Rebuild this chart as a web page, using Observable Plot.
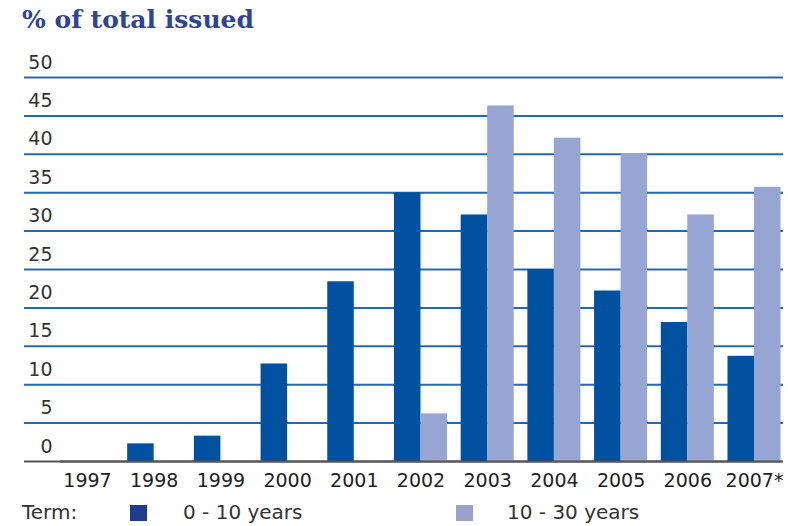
<!DOCTYPE html>
<html>
<head>
<meta charset="utf-8">
<script src="https://cdn.jsdelivr.net/npm/d3@7"></script>
<script src="https://cdn.jsdelivr.net/npm/@observablehq/plot@0.6"></script>
<style>
  html, body { margin: 0; padding: 0; background: #fff; width: 788px; height: 526px; overflow: hidden; }
  #title { position: absolute; left: 22px; top: 1px; font-family: "DejaVu Serif", serif; font-weight: bold; font-size: 25px; color: #2f4494; line-height: 38px; white-space: nowrap; }
  .layer { position: absolute; left: 0; top: 40px; }
  #legend { position: absolute; left: 0; top: 500px; width: 788px; height: 26px; font-family: "DejaVu Sans", sans-serif; font-size: 20px; color: #333; }
  #legend span { position: absolute; top: 0px; line-height: 24px; white-space: nowrap; }
  #legend .sw { width: 17px; height: 16px; top: 5px; }
</style>
</head>
<body>
<div id="title">% of total issued</div>
<div id="grid" class="layer"></div>
<div id="bars" class="layer"></div>
<div id="legend"></div>
<script>
const years = ["1997", "1998", "1999", "2000", "2001", "2002", "2003", "2004", "2005", "2006", "2007*"];
const short = [null, 2.3, 3.3, 12.7, 23.4, 35, 32.1, 25, 22.2, 18.1, 13.7];
const long = [null, null, null, null, null, 6.2, 46.3, 42.1, 40.1, 32.1, 35.7];
const terms = ["0 - 10 years", "10 - 30 years"];
const yTicks = [0, 5, 10, 15, 20, 25, 30, 35, 40, 45, 50];
const barColors = ["#0052a0", "#96a5d1"];
const legendColors = ["#1f3b8c", "#9aa1cd"];

const data = [];
years.forEach((yr, i) => {
  if (short[i] != null) data.push({year: yr, term: terms[0], value: short[i]});
  if (long[i] != null) data.push({year: yr, term: terms[1], value: long[i]});
});

const frame = {
  width: 788,
  height: 455,
  marginTop: 37,
  marginBottom: 34,
  marginLeft: 24,
  marginRight: 5
};

// Layer 1: horizontal gridlines, baseline and y tick labels
const gridPlot = Plot.plot({
  ...frame,
  style: {fontFamily: "DejaVu Sans", fontSize: "19px", background: "transparent"},
  x: {axis: null},
  y: {domain: [0, 50], axis: null},
  marks: [
    Plot.ruleY(yTicks.filter(d => d > 0), {y: d => d, stroke: "#2467b3", strokeWidth: 2}),
    Plot.ruleY([0], {stroke: "#555", strokeWidth: 2}),
    Plot.text(yTicks, {y: d => d, text: d => String(d), frameAnchor: "left", dx: 28, dy: -15, textAnchor: "end", fontSize: 19, fill: "#333"})
  ]
});
document.getElementById("grid").appendChild(gridPlot);

// Layer 2: grouped bars, baseline and year axis
const barPlot = Plot.plot({
  ...frame,
  style: {fontFamily: "DejaVu Sans", fontSize: "19px", color: "#222", background: "transparent"},
  fx: {domain: years, paddingInner: 0.205, paddingOuter: 0.292, align: 0.936, round: false, label: null, tickSize: 0, tickPadding: 12, axis: "bottom"},
  x: {domain: terms, padding: 0, round: false, axis: null},
  y: {domain: [0, 50], axis: null},
  color: {domain: terms, range: barColors},
  marks: [
    Plot.barY(data, {fx: "year", x: "term", y: "value", fill: "term"}),
    Plot.frame({anchor: "bottom", facet: "super", stroke: "#555", strokeWidth: 2})
  ]
});
document.getElementById("bars").appendChild(barPlot);

const legend = document.getElementById("legend");
const items = [
  {text: "Term:", left: 22},
  {sw: legendColors[0], left: 130},
  {text: terms[0], left: 183},
  {sw: legendColors[1], left: 456},
  {text: terms[1], left: 507}
];
items.forEach(it => {
  const s = document.createElement("span");
  s.style.left = it.left + "px";
  if (it.sw) { s.className = "sw"; s.style.background = it.sw; }
  else s.textContent = it.text;
  legend.appendChild(s);
});
</script>
</body>
</html>
